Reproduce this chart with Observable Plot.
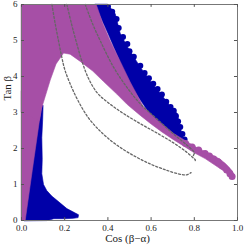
<!DOCTYPE html>
<html><head><meta charset="utf-8">
<script src="https://cdn.jsdelivr.net/npm/d3@7"></script>
<script src="https://cdn.jsdelivr.net/npm/@observablehq/plot@0.6"></script>
<style>body{margin:0;background:#fff}</style>
</head><body><div id="chart"></div>
<script>
const xTicks = [0, 0.2, 0.4, 0.6, 0.8, 1.0];
const yTicks = [0, 1, 2, 3, 4, 5, 6];

// allowed region (magenta), outline points [cos(b-a), tan b]
const magentaLeft = [
  [0,0],[0.017,0],[0.05,1.4],[0.083,2.78],[0.095,3.2],[0,3.6]
];
const magentaRegion = [
  [0,3.0],[0.083,2.78],[0.092,3.1],[0.11,3.45],[0.133,3.9],[0.16,4.35],[0.195,4.65],
  [0.225,4.62],[0.272,4.42],[0.33,4.15],[0.38,3.86],[0.44,3.52],[0.49,3.22],[0.55,2.92],
  [0.6,2.68],[0.65,2.46],[0.7,2.26],[0.75,2.07],[0.8,1.88],[0.85,1.72],[0.9,1.52],[0.95,1.32],
  [0.975,1.2],[0.985,1.25],[0.975,1.38],[0.95,1.55],[0.92,1.7],[0.873,1.85],[0.81,2.03],
  [0.75,2.25],[0.704,2.42],[0.627,2.8],[0.565,3.15],[0.503,3.85],[0.457,4.42],[0.41,5.0],
  [0.375,5.5],[0.346,6],[0,6]
];
const magentaTail = [
  [0.76,2.14],[0.79,2.04],[0.82,1.96],[0.85,1.86],[0.87,1.79],[0.89,1.71],[0.91,1.63],
  [0.93,1.52],[0.95,1.4],[0.965,1.3],[0.975,1.22]
];
// blue region, upper band
const blueUpper = [
  [0.40,6],[0.434,5.74],[0.457,5.2],[0.488,4.85],[0.55,4.26],[0.60,3.85],[0.65,3.48],
  [0.70,3.08],[0.72,2.98],[0.735,2.6],[0.75,2.22],[0.76,2.12],[0.7,2.4],[0.6,2.9],
  [0.5,3.8],[0.4,5.2],[0.34,6]
];
const blueEdge = [
  [0.40,5.95],[0.42,5.8],[0.44,5.6],[0.45,5.35],[0.47,5.1],[0.49,4.9],[0.5,4.7],[0.52,4.55],
  [0.55,4.3],[0.57,4.1],[0.59,3.95],[0.61,3.8],[0.63,3.65],[0.65,3.5],[0.67,3.3],[0.69,3.15],
  [0.705,3.05],[0.715,2.9],[0.725,2.75],[0.735,2.6],[0.745,2.4],[0.755,2.25]
];
// blue region, lower left
const blueLower = [
  [0.012,0],[0.05,1.5],[0.09,3.2],[0.1,3.2],[0.098,2.8],[0.094,2.3],[0.096,1.7],[0.094,1.3],
  [0.102,1.0],[0.117,0.83],[0.14,0.68],[0.164,0.56],[0.21,0.33],[0.245,0.22],[0.264,0.16],
  [0.262,0.08],[0.24,0.06],[0.2,0.05],[0.15,0.05],[0.12,0]
];
// dashed contours
const curveL = [
  [0.141,6],[0.155,5.5],[0.171,5.0],[0.186,4.55],[0.2,4.2],[0.225,3.8],[0.26,3.35],[0.31,2.85],
  [0.37,2.45],[0.44,2.1],[0.52,1.8],[0.6,1.56],[0.67,1.4],[0.73,1.29],[0.765,1.27],[0.785,1.33]
];
const curveM = [
  [0.21,6],[0.232,5.45],[0.256,4.91],[0.28,4.42],[0.31,3.95],[0.35,3.55],[0.4,3.28],[0.47,2.98],
  [0.55,2.69],[0.63,2.42],[0.7,2.17],[0.76,1.92],[0.795,1.74],[0.805,1.68],[0.8,1.63]
];
const curveR = [
  [0.295,6],[0.33,5.45],[0.364,5.0],[0.426,4.26],[0.488,3.7],[0.55,3.24],[0.627,2.82],
  [0.704,2.4],[0.765,2.1],[0.80,1.88],[0.795,1.8]
];

const blue = "#0000a8", magenta = "#a64fa6";
const X = d => d[0], Y = d => d[1];
const dash = {x: X, y: Y, stroke: "#666", strokeWidth: 1.3, strokeDasharray: "2,2", curve: "catmull-rom"};
const poly = (data, color) => Plot.line(data, {x: X, y: Y, fill: color, stroke: color, strokeWidth: 0.6, curve: "linear-closed"});

const plot = Plot.plot({
  width: 245, height: 245,
  marginLeft: 21, marginRight: 8, marginTop: 4, marginBottom: 25,
  style: {fontFamily: "'Liberation Serif', serif", fontSize: "9px", color: "#222", background: "#fff"},
  x: {domain: [0, 1]},
  y: {domain: [0, 6]},
  marks: [
    poly(blueLower, blue),
    poly(blueUpper, blue),
    Plot.dot(blueEdge, {x: X, y: Y, r: 3, fill: blue, clip: true}),
    poly(magentaLeft, magenta),
    poly(magentaRegion, magenta),
    Plot.dot(magentaTail, {x: X, y: Y, r: 3.5, fill: magenta}),
    Plot.line(curveL, dash),
    Plot.line(curveM, dash),
    Plot.line(curveR, dash),
    Plot.frame({stroke: "#777", strokeWidth: 1}),
    Plot.axisX(xTicks, {tickSize: 0, tickPadding: 4, tickFormat: d3.format(".1f"), label: null}),
    Plot.axisY(yTicks, {tickSize: 0, tickPadding: 4, tickFormat: d3.format("d"), label: null}),
    Plot.ruleX(xTicks, {x: d => d, y1: 0, y2: 0.08, stroke: "#555"}),
    Plot.ruleX(xTicks, {x: d => d, y1: 5.92, y2: 6, stroke: "#555"}),
    Plot.ruleY(yTicks, {y: d => d, x1: 0, x2: 0.014, stroke: "#555"}),
    Plot.ruleY(yTicks, {y: d => d, x1: 0.986, x2: 1, stroke: "#555"}),
    Plot.text(["Cos (β−α)"], {frameAnchor: "bottom", dx: -2, dy: 21, fontSize: 11, fill: "#222"}),
    Plot.text(["Tan β"], {frameAnchor: "left", dx: -14, dy: -12, rotate: -90, fontSize: 11, fill: "#222"})
  ]
});
document.getElementById("chart").appendChild(plot);
</script>
</body></html>
